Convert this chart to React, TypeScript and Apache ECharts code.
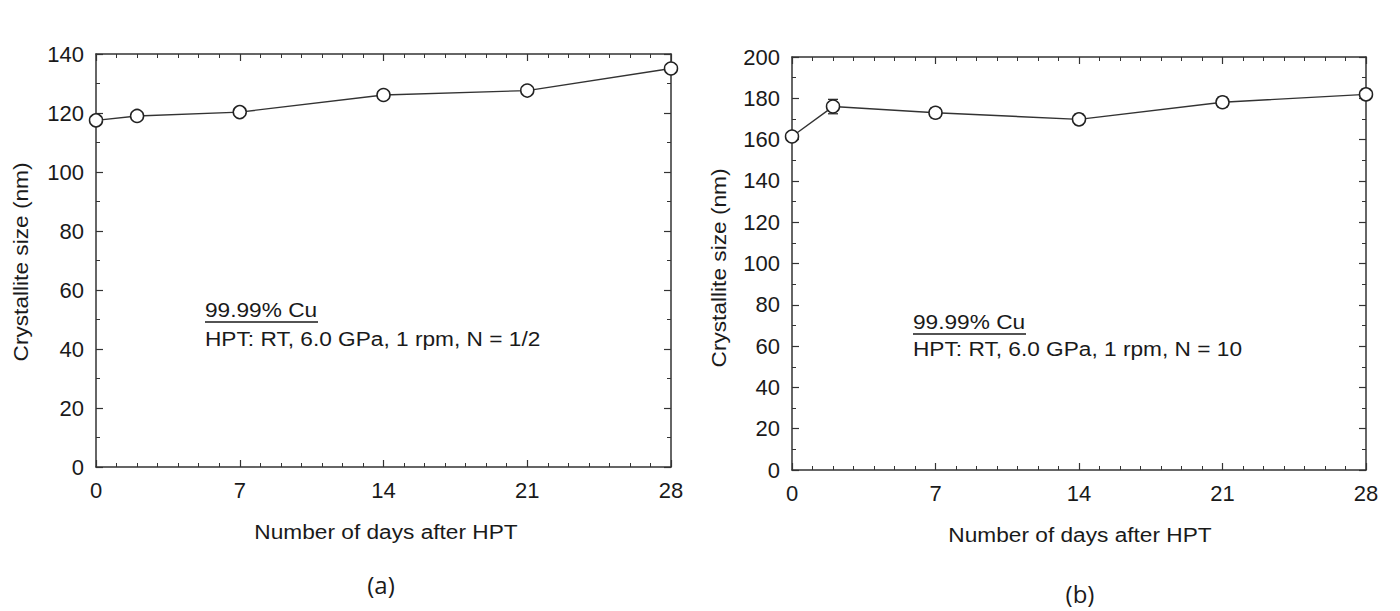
import React, { useEffect, useRef } from "react";
import * as echarts from "echarts";

const daysA = [0, 2, 7, 14, 21, 28];
const sizeA = [117.5, 119.0, 120.3, 126.1, 127.6, 135.1];
const errA = [1.5, 1.2, 1.2, 1.5, 1.2, 1.5];

const daysB = [0, 2, 7, 14, 21, 28];
const sizeB = [161.5, 176.0, 173.0, 169.8, 178.1, 181.9];
const errB = [2.0, 3.5, 2.5, 2.5, 2.5, 2.5];

const xTitle = "Number of days after HPT";
const yTitle = "Crystallite size (nm)";
const noteTitle = "99.99% Cu";
const noteA = "HPT: RT, 6.0 GPa, 1 rpm, N = 1/2";
const noteB = "HPT: RT, 6.0 GPa, 1 rpm, N = 10";
const panelA = "(a)";
const panelB = "(b)";

const FONT = "Liberation Sans, Arial, sans-serif";
const INK = "#1a1a1a";
const SX = 1.08;

function errData(xs: number[], ys: number[], es: number[]) {
  return xs.map((x, i) => [x, ys[i] - es[i], ys[i] + es[i]]);
}

function xAxisDef(grid: number, top: boolean) {
  return {
    type: "value",
    gridIndex: grid,
    position: top ? "top" : "bottom",
    min: 0,
    max: 28,
    interval: 7,
    axisLine: { show: true, onZero: false, lineStyle: { color: "#333", width: 1.5 } },
    axisTick: { show: true, inside: true, length: 7, lineStyle: { color: "#333", width: 1.2 } },
    minorTick: { show: true, splitNumber: 7, length: 4, lineStyle: { color: "#333", width: 1 } },
    axisLabel: {
      show: !top,
      margin: 12,
      fontFamily: FONT,
      fontSize: 22,
      color: INK,
    },
    splitLine: { show: false },
    minorSplitLine: { show: false },
  };
}

function yAxisDef(grid: number, right: boolean, max: number) {
  return {
    type: "value",
    gridIndex: grid,
    position: right ? "right" : "left",
    min: 0,
    max: max,
    interval: 20,
    axisLine: { show: true, onZero: false, lineStyle: { color: "#333", width: 1.5 } },
    axisTick: { show: true, inside: true, length: 7, lineStyle: { color: "#333", width: 1.2 } },
    minorTick: { show: true, splitNumber: 2, length: 4, lineStyle: { color: "#333", width: 1 } },
    axisLabel: {
      show: !right,
      margin: 12,
      fontFamily: FONT,
      fontSize: 22,
      color: INK,
    },
    splitLine: { show: false },
    minorSplitLine: { show: false },
  };
}

function errRender(params: any, api: any) {
  const x = api.value(0);
  const lo = api.coord([x, api.value(1)]);
  const hi = api.coord([x, api.value(2)]);
  const w = 5;
  const st = { stroke: "#222", lineWidth: 1.2 };
  return {
    type: "group",
    children: [
      { type: "line", shape: { x1: lo[0], y1: lo[1], x2: hi[0], y2: hi[1] }, style: st },
      { type: "line", shape: { x1: lo[0] - w, y1: lo[1], x2: lo[0] + w, y2: lo[1] }, style: st },
      { type: "line", shape: { x1: hi[0] - w, y1: hi[1], x2: hi[0] + w, y2: hi[1] }, style: st },
    ],
  };
}

function lineSeries(xAxisIndex: number, yAxisIndex: number, xs: number[], ys: number[]) {
  return {
    type: "line",
    xAxisIndex,
    yAxisIndex,
    data: xs.map((x, i) => [x, ys[i]]),
    symbol: "circle",
    symbolSize: 13,
    clip: false,
    z: 5,
    lineStyle: { color: "#333", width: 1.4 },
    itemStyle: { color: "#fff", borderColor: "#222", borderWidth: 1.5 },
  };
}

function txt(text: string, x: number, y: number, opts: any = {}) {
  return {
    type: "text",
    x,
    y,
    scaleX: opts.scaleX ?? SX,
    rotation: opts.rotation ?? 0,
    style: {
      text,
      fontFamily: opts.font ?? FONT,
      fontSize: opts.size ?? 21,
      fill: INK,
      align: opts.align ?? "left",
      verticalAlign: "middle",
    },
  };
}

export default function App() {
  const ref = useRef<HTMLDivElement>(null);
  useEffect(() => {
    if (!ref.current) return;
    const chart = echarts.init(ref.current, undefined, { renderer: "svg" });
    chart.setOption({
      animation: false,
      backgroundColor: "#fff",
      grid: [
        { left: 96, top: 54, width: 575, height: 413 },
        { left: 792, top: 57, width: 574, height: 413 },
      ],
      xAxis: [xAxisDef(0, false), xAxisDef(0, true), xAxisDef(1, false), xAxisDef(1, true)],
      yAxis: [
        yAxisDef(0, false, 140),
        yAxisDef(0, true, 140),
        yAxisDef(1, false, 200),
        yAxisDef(1, true, 200),
      ],
      series: [
        {
          type: "custom",
          xAxisIndex: 0,
          yAxisIndex: 0,
          renderItem: errRender,
          data: errData(daysA, sizeA, errA),
          encode: { x: 0, y: [1, 2] },
          z: 3,
          clip: false,
        },
        lineSeries(0, 0, daysA, sizeA),
        {
          type: "custom",
          xAxisIndex: 2,
          yAxisIndex: 2,
          renderItem: errRender,
          data: errData(daysB, sizeB, errB),
          encode: { x: 0, y: [1, 2] },
          z: 3,
          clip: false,
        },
        lineSeries(2, 2, daysB, sizeB),
      ],
      graphic: [
        txt(xTitle, 386, 532, { align: "center" }),
        txt(xTitle, 1080, 535, { align: "center" }),
        txt(yTitle, 21, 262, { align: "center", rotation: Math.PI / 2 }),
        txt(yTitle, 719, 268, { align: "center", rotation: Math.PI / 2 }),
        txt(noteTitle, 205, 310),
        {
          type: "line",
          shape: { x1: 205, y1: 322, x2: 318, y2: 322 },
          style: { stroke: INK, lineWidth: 1.3 },
        },
        txt(noteA, 205, 339),
        txt(noteTitle, 913, 322),
        {
          type: "line",
          shape: { x1: 913, y1: 334, x2: 1026, y2: 334 },
          style: { stroke: INK, lineWidth: 1.3 },
        },
        txt(noteB, 913, 349),
        txt(panelA, 381, 584, { align: "center", scaleX: 1, size: 24, font: "Open Sans, sans-serif" }),
        txt(panelB, 1080, 593, { align: "center", scaleX: 1, size: 24, font: "Open Sans, sans-serif" }),
      ],
    });
    return () => chart.dispose();
  }, []);
  return (
    <div
      ref={ref}
      style={{ position: "fixed", left: 0, top: 0, width: 1400, height: 611, background: "#fff" }}
    />
  );
}
